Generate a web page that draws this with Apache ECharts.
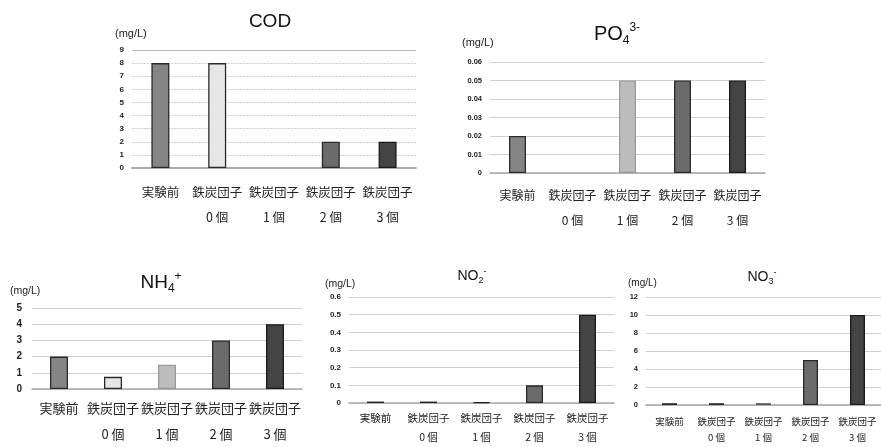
<!DOCTYPE html>
<html>
<head>
<meta charset="utf-8">
<script src="https://cdn.jsdelivr.net/npm/echarts@6/dist/echarts.min.js"></script>
<style>
  html, body { margin: 0; padding: 0; background: #fff; }
  #chart { width: 881px; height: 447px; }
</style>
</head>
<body>
<div id="chart"></div>
<script>
// Water quality after adding iron-charcoal dumplings (mg/L)
const categories = ['実験前', '鉄炭団子\n0 個', '鉄炭団子\n1 個', '鉄炭団子\n2 個', '鉄炭団子\n3 個'];

const codValues = [8, 8, 0, 2, 2];
const po4Values = [0.02, 0, 0.05, 0.05, 0.05];
const nh4Values = [2, 0.75, 1.5, 3, 4];
const no2Values = [0.008, 0.008, 0.005, 0.1, 0.5];
const no3Values = [0.2, 0.2, 0.2, 5, 10];

// y-axis ranges: [max, step]
const codAxis = [9, 1];
const po4Axis = [0.06, 0.01];
const nh4Axis = [5, 1];
const no2Axis = [0.6, 0.1];
const no3Axis = [12, 2];

const unitText = '(mg/L)';

// Fill colours per category (same order as categories)
const barFills = ['#858585', '#e6e6e6', '#bcbcbc', '#6b6b6b', '#444444'];
const barBorders = ['#2a2a2a', '#2a2a2a', '#9a9a9a', '#2a2a2a', '#1a1a1a'];

const JP = '"Noto Sans CJK JP", sans-serif';

const panels = [
  { values: codValues, axis: codAxis, grid: { left: 132, top: 50, width: 284, height: 118 },
    barWidth: 18, catFont: 12.5, catLH: 25, catMargin: 12, yFont: 8, yMargin: 8, dotted: true, axisW: 2 },
  { values: po4Values, axis: po4Axis, grid: { left: 490, top: 62, width: 275, height: 111 },
    barWidth: 17, catFont: 12, catLH: 25, catMargin: 10, yFont: 7.5, yMargin: 8, dotted: false, axisW: 1.5 },
  { values: nh4Values, axis: nh4Axis, grid: { left: 32, top: 308, width: 270, height: 89 },
    barWidth: 18, catFont: 13, catLH: 26, catMargin: 6, yFont: 10, yMargin: 10, dotted: false, axisW: 1.5 },
  { values: no2Values, axis: no2Axis, grid: { left: 349, top: 297, width: 265, height: 110 },
    barWidth: 17, catFont: 10.5, catLH: 19, catMargin: 6, yFont: 8, yMargin: 8, dotted: false, axisW: 1.5,
    fills: ['#333', '#333', '#ffffff', '#6b6b6b', '#444444'], borders: ['#222', '#222', '#222', '#2a2a2a', '#1a1a1a'] },
  { values: no3Values, axis: no3Axis, grid: { left: 646, top: 297, width: 235, height: 108 },
    barWidth: 15, catFont: 9.5, catLH: 16, catMargin: 8, yFont: 7.5, yMargin: 8, dotted: false, axisW: 1.5,
    borders: ['#2a2a2a', '#2a2a2a', '#555', '#2a2a2a', '#1a1a1a'] }
];

const grids = [], xAxes = [], yAxes = [], series = [];
panels.forEach((p, i) => {
  const fills = p.fills || barFills;
  const borders = p.borders || barBorders;
  grids.push(Object.assign({ containLabel: false }, p.grid));
  xAxes.push({
    type: 'category', gridIndex: i, data: categories,
    axisTick: { show: false },
    axisLine: { lineStyle: { color: '#a8a8a8', width: p.axisW } },
    axisLabel: { interval: 0, fontFamily: JP, fontSize: p.catFont, lineHeight: p.catLH,
                 color: '#222', margin: p.catMargin }
  });
  yAxes.push({
    type: 'value', gridIndex: i, min: 0, max: p.axis[0], interval: p.axis[1],
    axisLine: { show: false }, axisTick: { show: false },
    axisLabel: { fontFamily: 'Liberation Sans, sans-serif', fontWeight: 'bold', fontSize: p.yFont,
                 color: '#222', margin: p.yMargin },
    splitLine: { lineStyle: { color: '#cfcfcf', width: 1, type: p.dotted ? [2, 1] : 'solid' } }
  });
  const s = {
    type: 'bar', xAxisIndex: i, yAxisIndex: i, barWidth: p.barWidth,
    data: p.values.map((v, k) => ({
      value: v,
      itemStyle: { color: fills[k], borderColor: borders[k], borderWidth: v > 0 ? 1.3 : 0 }
    })),
    animation: false, silent: true
  };
  if (p.dotted) {
    // solid top gridline
    s.markLine = {
      silent: true, symbol: 'none', label: { show: false },
      lineStyle: { color: '#b8b8b8', width: 1, type: 'solid' },
      data: [{ yAxis: p.axis[0] }]
    };
  }
  series.push(s);
});

function titleText(x, y, text, size, subSize) {
  return {
    type: 'text', x: x, y: y,
    style: {
      text: text, align: 'center', verticalAlign: 'middle',
      fontFamily: 'Liberation Sans, sans-serif', fill: '#111',
      rich: {
        b: { fontSize: size, lineHeight: Math.round(size * 1.25), fontFamily: 'Liberation Sans, sans-serif', fill: '#111', verticalAlign: 'middle' },
        sub: { fontSize: subSize, lineHeight: subSize, verticalAlign: 'bottom', fontFamily: 'Liberation Sans, sans-serif', fill: '#111' },
        sup: { fontSize: subSize, lineHeight: subSize, verticalAlign: 'top', fontFamily: 'Liberation Sans, sans-serif', fill: '#111' }
      }
    }
  };
}
function unitLabel(x, y, size) {
  return {
    type: 'text', x: x, y: y,
    style: { text: unitText, align: 'left', verticalAlign: 'middle', fontSize: size,
             fontFamily: 'Liberation Sans, sans-serif', fill: '#222' }
  };
}

const graphics = [
  titleText(270, 22, '{b|COD}', 19, 12),
  titleText(617, 34, '{b|PO}{sub|4}{sup|3-}', 20, 12),
  titleText(161, 283, '{b|NH}{sub|4}{sup|+}', 19, 12),
  titleText(472, 276, '{b|NO}{sub|2}{sup|-}', 14, 9),
  titleText(762, 277, '{b|NO}{sub|3}{sup|-}', 14, 9),
  unitLabel(115, 34, 11),
  unitLabel(462, 43, 11),
  unitLabel(10, 291, 10.5),
  unitLabel(325, 284, 10.5),
  unitLabel(628, 283, 10)
];

const chart = echarts.init(document.getElementById('chart'), null, { renderer: 'canvas' });
chart.setOption({
  animation: false,
  backgroundColor: '#fff',
  grid: grids, xAxis: xAxes, yAxis: yAxes, series: series,
  graphic: graphics
});
</script>
</body>
</html>
